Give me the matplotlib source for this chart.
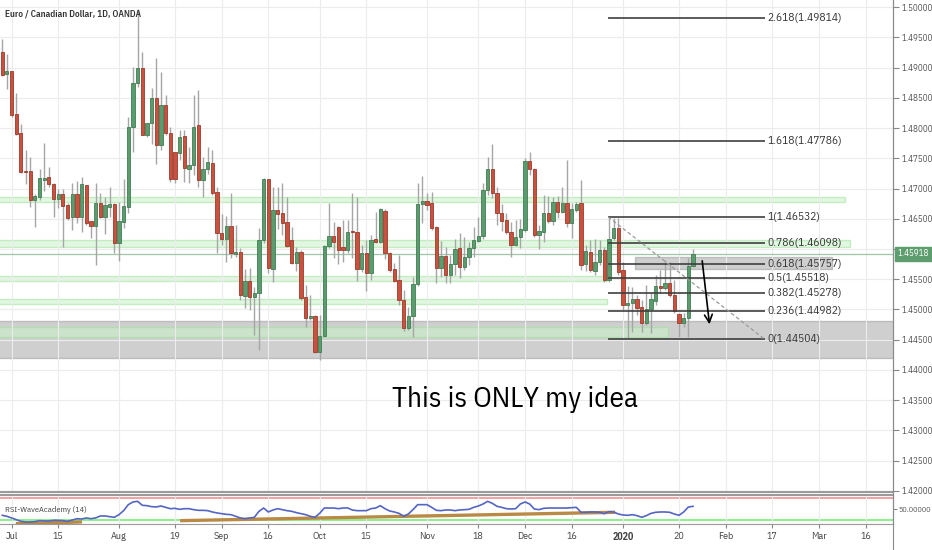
"""
EUR/CAD daily chart (TradingView style) with fib levels and RSI pane
"""

import numpy as np
import pandas as pd
import matplotlib
matplotlib.use('Agg')
import matplotlib.pyplot as plt
from matplotlib.patches import Rectangle
import matplotlib.transforms as mtransforms

COND = 'IBM Plex Sans Condensed'
plt.rcParams['font.family'] = [COND, 'DejaVu Sans']

# ---- data ----
first_day = '2019-06-27'
last_day = '2020-03-31'
holidays = ['2019-12-25', '2020-01-01']

opens = [
    1.4926, 1.4889, 1.4894, 1.4823, 1.4792, 1.4729, 1.4729, 1.4681, 1.4686, 1.4714,
    1.4719, 1.4707, 1.4683, 1.4691, 1.4673, 1.4653, 1.4691, 1.4653, 1.4706, 1.4646,
    1.4638, 1.4676, 1.4653, 1.4669, 1.4674, 1.4610, 1.4645, 1.4669, 1.4802, 1.4874,
    1.4899, 1.4788, 1.4808, 1.4850, 1.4772, 1.4838, 1.4792, 1.4760, 1.4759, 1.4787,
    1.4732, 1.4739, 1.4805, 1.4714, 1.4732, 1.4742, 1.4694, 1.4626, 1.4617, 1.4638,
    1.4592, 1.4595, 1.4522, 1.4547, 1.4521, 1.4527, 1.4615, 1.4716, 1.4567, 1.4664,
    1.4660, 1.4645, 1.4615, 1.4577, 1.4595, 1.4521, 1.4486, 1.4489, 1.4430, 1.4456,
    1.4605, 1.4621, 1.4636, 1.4603, 1.4598, 1.4630, 1.4628, 1.4567, 1.4593, 1.4560,
    1.4617, 1.4612, 1.4663, 1.4593, 1.4567, 1.4549, 1.4516, 1.4469, 1.4489, 1.4542,
    1.4674, 1.4679, 1.4676, 1.4636, 1.4569, 1.4588, 1.4557, 1.4575, 1.4602, 1.4570,
    1.4587, 1.4602, 1.4613, 1.4621, 1.4698, 1.4732, 1.4693, 1.4660, 1.4648, 1.4628,
    1.4607, 1.4620, 1.4631, 1.4745, 1.4732, 1.4623, 1.4628, 1.4660, 1.4646, 1.4678,
    1.4661, 1.4676, 1.4643, 1.4664, 1.4676, 1.4575, 1.4595, 1.4564, 1.4579, 1.4598,
    1.4549, 1.4618, 1.4635, 1.4565, 1.4507, 1.4511, 1.4517, 1.4504, 1.4478, 1.4501,
    1.4514, 1.4539, 1.4536, 1.4544, 1.4524, 1.4493, 1.4478, 1.4486, 1.4572]

highs = [
    1.4947, 1.4922, 1.4894, 1.4858, 1.4807, 1.4764, 1.4752, 1.4691, 1.4732, 1.4775,
    1.4736, 1.4709, 1.4699, 1.4699, 1.4676, 1.4709, 1.4712, 1.4719, 1.4706, 1.4646,
    1.4709, 1.4693, 1.4686, 1.4702, 1.4676, 1.4678, 1.4716, 1.4818, 1.4901, 1.4997,
    1.4926, 1.4808, 1.4866, 1.4916, 1.4893, 1.4855, 1.4802, 1.4760, 1.4797, 1.4797,
    1.4769, 1.4855, 1.4863, 1.4752, 1.4769, 1.4764, 1.4702, 1.4658, 1.4655, 1.4693,
    1.4640, 1.4602, 1.4567, 1.4569, 1.4537, 1.4635, 1.4717, 1.4716, 1.4702, 1.4702,
    1.4709, 1.4686, 1.4636, 1.4603, 1.4598, 1.4540, 1.4524, 1.4491, 1.4491, 1.4607,
    1.4676, 1.4645, 1.4638, 1.4648, 1.4648, 1.4693, 1.4686, 1.4607, 1.4615, 1.4623,
    1.4661, 1.4668, 1.4666, 1.4595, 1.4577, 1.4590, 1.4532, 1.4504, 1.4554, 1.4709,
    1.4721, 1.4693, 1.4694, 1.4638, 1.4613, 1.4603, 1.4590, 1.4617, 1.4626, 1.4620,
    1.4612, 1.4636, 1.4653, 1.4709, 1.4752, 1.4774, 1.4702, 1.4674, 1.4660, 1.4645,
    1.4648, 1.4650, 1.4750, 1.4760, 1.4734, 1.4640, 1.4689, 1.4688, 1.4686, 1.4688,
    1.4702, 1.4747, 1.4676, 1.4678, 1.4714, 1.4607, 1.4615, 1.4617, 1.4615, 1.4603,
    1.4655, 1.4651, 1.4651, 1.4579, 1.4539, 1.4537, 1.4524, 1.4516, 1.4540, 1.4527,
    1.4557, 1.4565, 1.4582, 1.4579, 1.4549, 1.4494, 1.4494, 1.4585, 1.4600]

lows = [
    1.4886, 1.4864, 1.4818, 1.4788, 1.4726, 1.4707, 1.4669, 1.4636, 1.4681, 1.4696,
    1.4702, 1.4653, 1.4668, 1.4603, 1.4648, 1.4631, 1.4643, 1.4628, 1.4640, 1.4618,
    1.4574, 1.4651, 1.4625, 1.4653, 1.4593, 1.4580, 1.4635, 1.4660, 1.4760, 1.4868,
    1.4788, 1.4785, 1.4774, 1.4741, 1.4764, 1.4788, 1.4711, 1.4709, 1.4747, 1.4711,
    1.4709, 1.4722, 1.4702, 1.4686, 1.4724, 1.4689, 1.4593, 1.4607, 1.4579, 1.4585,
    1.4587, 1.4516, 1.4502, 1.4499, 1.4458, 1.4433, 1.4610, 1.4560, 1.4545, 1.4633,
    1.4623, 1.4603, 1.4575, 1.4564, 1.4516, 1.4471, 1.4483, 1.4428, 1.4417, 1.4454,
    1.4602, 1.4585, 1.4575, 1.4579, 1.4593, 1.4585, 1.4547, 1.4562, 1.4530, 1.4549,
    1.4610, 1.4610, 1.4583, 1.4562, 1.4545, 1.4507, 1.4464, 1.4466, 1.4454, 1.4539,
    1.4643, 1.4664, 1.4631, 1.4544, 1.4554, 1.4544, 1.4544, 1.4557, 1.4552, 1.4565,
    1.4574, 1.4587, 1.4612, 1.4617, 1.4689, 1.4684, 1.4640, 1.4630, 1.4625, 1.4587,
    1.4605, 1.4602, 1.4628, 1.4722, 1.4620, 1.4600, 1.4612, 1.4643, 1.4640, 1.4651,
    1.4660, 1.4636, 1.4618, 1.4661, 1.4565, 1.4564, 1.4562, 1.4557, 1.4574, 1.4545,
    1.4545, 1.4615, 1.4557, 1.4499, 1.4453, 1.4463, 1.4491, 1.4463, 1.4474, 1.4461,
    1.4507, 1.4527, 1.4532, 1.4521, 1.4494, 1.4454, 1.4471, 1.4454, 1.4570]

closes = [
    1.4888, 1.4894, 1.4821, 1.4790, 1.4727, 1.4727, 1.4681, 1.4688, 1.4717, 1.4717,
    1.4707, 1.4683, 1.4691, 1.4671, 1.4651, 1.4691, 1.4653, 1.4707, 1.4643, 1.4638,
    1.4676, 1.4653, 1.4673, 1.4674, 1.4610, 1.4646, 1.4671, 1.4802, 1.4874, 1.4899,
    1.4788, 1.4808, 1.4850, 1.4772, 1.4838, 1.4792, 1.4716, 1.4716, 1.4785, 1.4734,
    1.4739, 1.4802, 1.4714, 1.4732, 1.4744, 1.4693, 1.4626, 1.4617, 1.4638, 1.4593,
    1.4595, 1.4524, 1.4547, 1.4521, 1.4527, 1.4615, 1.4716, 1.4569, 1.4664, 1.4658,
    1.4643, 1.4605, 1.4577, 1.4595, 1.4519, 1.4486, 1.4489, 1.4430, 1.4456, 1.4605,
    1.4621, 1.4612, 1.4598, 1.4598, 1.4628, 1.4628, 1.4567, 1.4593, 1.4560, 1.4615,
    1.4612, 1.4666, 1.4593, 1.4565, 1.4547, 1.4516, 1.4469, 1.4489, 1.4542, 1.4674,
    1.4679, 1.4673, 1.4635, 1.4569, 1.4588, 1.4557, 1.4575, 1.4600, 1.4570, 1.4587,
    1.4602, 1.4615, 1.4621, 1.4698, 1.4732, 1.4693, 1.4660, 1.4646, 1.4628, 1.4607,
    1.4620, 1.4633, 1.4745, 1.4732, 1.4623, 1.4630, 1.4660, 1.4646, 1.4678, 1.4661,
    1.4676, 1.4643, 1.4666, 1.4674, 1.4574, 1.4597, 1.4565, 1.4579, 1.4598, 1.4549,
    1.4617, 1.4635, 1.4562, 1.4507, 1.4511, 1.4517, 1.4502, 1.4478, 1.4501, 1.4517,
    1.4539, 1.4536, 1.4544, 1.4524, 1.4497, 1.4478, 1.4486, 1.4572, 1.45918]

rsi = [
    38.5, 36.7, 33.7, 30.6, 27.6, 26.4, 26.4, 27.0, 28.8, 28.2,
    28.2, 29.4, 29.4, 28.8, 27.6, 30.0, 32.4, 31.8, 33.7, 32.4,
    33.7, 37.3, 37.3, 36.1, 34.9, 39.7, 47.0, 57.9, 62.8, 64.0,
    56.7, 56.1, 54.3, 53.7, 55.5, 53.0, 50.6, 51.2, 49.4, 50.6,
    50.6, 48.8, 47.6, 47.6, 47.0, 44.6, 42.8, 41.5, 40.3, 39.7,
    36.7, 33.7, 32.4, 33.7, 34.9, 45.8, 51.8, 44.6, 48.2, 50.6,
    48.8, 47.0, 45.8, 43.4, 41.5, 39.7, 36.7, 34.9, 42.1, 51.8,
    51.8, 51.8, 50.6, 51.8, 52.0, 48.2, 47.0, 47.0, 47.0, 50.6,
    51.8, 56.1, 50.6, 46.4, 44.6, 42.1, 36.7, 40.9, 48.8, 57.9,
    57.9, 57.9, 53.0, 47.6, 47.0, 48.2, 48.2, 47.0, 48.2, 48.8,
    49.4, 53.0, 55.5, 59.1, 64.0, 60.3, 54.9, 53.0, 50.6, 50.0,
    50.6, 59.1, 62.8, 59.1, 50.0, 48.8, 51.2, 51.8, 51.8, 51.8,
    51.8, 51.8, 52.4, 53.0, 44.0, 44.0, 44.6, 44.6, 44.0, 41.5,
    45.2, 44.6, 40.9, 39.1, 38.5, 39.7, 37.9, 34.9, 37.9, 42.1,
    44.0, 44.6, 44.6, 44.0, 40.9, 38.5, 44.6, 53.6, 54.9]

tick_dates = ['2019-07-01', '2019-07-15', '2019-08-01', '2019-08-19', '2019-09-02',
              '2019-09-16', '2019-10-01', '2019-10-15', '2019-11-01', '2019-11-18',
              '2019-12-02', '2019-12-16', '2020-01-02', '2020-01-20', '2020-02-03',
              '2020-02-17', '2020-03-02', '2020-03-16']
tick_labels = ['Jul', '15', 'Aug', '19', 'Sep', '16', 'Oct', '15', 'Nov', '18',
               'Dec', '16', '2020', '20', 'Feb', '17', 'Mar', '16']

# fibonacci retracement drawn on the chart
fib_ratios = ['2.618', '1.618', '1', '0.786', '0.618', '0.5', '0.382', '0.236', '0']
fib_prices = [1.49814, 1.47786, 1.46532, 1.46098, 1.45757, 1.45518, 1.45278, 1.44982, 1.44504]
fib_start, fib_end = 129.8, 163.4

# support / resistance zones: (start bar, end bar, low, high)
green_zones = [(-1, 180.6, 1.4678, 1.4686),
               (-1, 181.6, 1.4603, 1.4615),
               (-1, 129.6, 1.4547, 1.4555),
               (-1, 129.6, 1.4509, 1.4517),
               (-1, 142.6, 1.4454, 1.4471)]
grey_zones = [(-1, 195, 1.4420, 1.4481),
              (135.6, 177.8, 1.4567, 1.4587)]

arrow_from = (149.9, 1.4585)
arrow_to = (151.6, 1.4471)

rsi_lines = [([2.9, 17.1], [23.4, 26.4]),
             ([38.1, 131.3], [28.8, 44.0])]


def draw_chart():
    days = pd.bdate_range(first_day, last_day).drop(pd.to_datetime(holidays))
    tick_pos = days.get_indexer(pd.to_datetime(tick_dates))

    o = np.array(opens)
    h = np.array(highs)
    l = np.array(lows)
    c = np.array(closes)
    x = np.arange(len(c))

    fig = plt.figure(figsize=(9.32, 5.5), dpi=100)
    fig.patch.set_facecolor('white')
    ax = fig.add_axes([0, 58 / 550, 893 / 932, 492 / 550])
    rax = fig.add_axes([0, 26 / 550, 893 / 932, 29 / 550], sharex=ax)

    ax.set_xlim(-0.49, 190.85)
    ax.set_ylim(1.41983, 1.50116)

    # grid
    ax.set_yticks(np.arange(1.42, 1.5001, 0.005))
    ax.set_xticks(tick_pos)
    ax.grid(True, color='#ececec', lw=0.8, zorder=0)
    rax.grid(True, axis='x', color='#ececec', lw=0.8, zorder=0)

    # zones
    for x0, x1, lo, hi in grey_zones:
        ax.add_patch(Rectangle((x0, lo), x1 - x0, hi - lo, facecolor='#a8a8a8',
                               edgecolor='#9a9a9a', alpha=0.55, lw=1, zorder=1))
    for x0, x1, lo, hi in green_zones:
        ax.add_patch(Rectangle((x0, lo), x1 - x0, hi - lo, facecolor='#c9f2c9',
                               edgecolor='#9be39b', alpha=0.55, lw=1, zorder=1.5))

    # last price line
    ax.axhline(c[-1], color='#9dc5a6', lw=0.9, zorder=1.6)

    # candles
    up = c >= o
    body_col = np.where(up, '#5b9c6f', '#c8523f')
    edge_col = np.where(up, '#417d54', '#9e3a2a')
    ax.vlines(x, l, h, color='#a6a6a6', lw=1, zorder=2)
    ax.bar(x, np.maximum(np.abs(c - o), 0.00004), bottom=np.minimum(o, c), width=0.66,
           color=body_col, edgecolor=edge_col, lw=0.6, zorder=3)

    # fibonacci levels
    ax.hlines(fib_prices, fib_start, fib_end, color='#3f3f3f', lw=1.2, zorder=4)
    for r, p in zip(fib_ratios, fib_prices):
        ax.text(fib_end + 0.6, p, f'{r}({p:.5f})', fontsize=8.2, color='#333333',
                ha='left', va='center', zorder=5)
    ax.plot([fib_start, fib_end], [fib_prices[2], fib_prices[-1]], ls=(0, (3, 2)),
            color='#9a9a9a', lw=0.9, zorder=4)

    # arrow
    ax.annotate('', xy=arrow_to, xytext=arrow_from,
                arrowprops=dict(arrowstyle='->', color='black', lw=1.2,
                                mutation_scale=14), zorder=6)

    ax.text(109.9, 1.4339, 'This is ONLY my idea', fontsize=21, color='black',
            ha='center', va='baseline', zorder=6)

    # right price axis (the level under the price tag is hidden, as on the chart)
    ax.yaxis.tick_right()
    ax.yaxis.set_major_formatter(plt.FuncFormatter(
        lambda v, p: '' if abs(v - c[-1]) < 0.0015 else f'{v:.5f}'))
    ax.tick_params(axis='y', direction='out', length=4, width=0.8, color='#888888',
                   labelsize=6.5, labelcolor='#555555', pad=2)
    ax.tick_params(axis='x', length=0, labelbottom=False)
    for s in ['top', 'left']:
        ax.spines[s].set_visible(False)
    ax.spines['right'].set_color('#8a8a8a')
    ax.spines['bottom'].set_color('#9a9a9a')
    ax.spines['bottom'].set_linewidth(1.5)

    # price tag
    trans = mtransforms.blended_transform_factory(ax.transAxes, ax.transData)
    ax.text(1.005, c[-1], f'{c[-1]:.5f}', transform=trans, fontsize=6.5, color='white',
            ha='left', va='center', zorder=10, clip_on=False,
            bbox=dict(boxstyle='square,pad=0.3', facecolor='#5e9e6e', edgecolor='#5e9e6e'))

    # RSI pane
    rax.set_ylim(22.7, 75.5)
    rax.axhline(70, color='#f4a0a0', lw=1.4, zorder=1)
    rax.axhline(30, color='#8cef8c', lw=1.4, zorder=1)
    for xs, ys in rsi_lines:
        rax.plot(xs, ys, color='#b98a45', lw=2.4, solid_capstyle='butt', zorder=2)
    rax.plot(x, rsi, color='#5565c2', lw=1.2, zorder=3)
    rax.text(0.006, 0.5, 'RSI-WaveAcademy (14)', transform=rax.transAxes, fontsize=6,
             color='#444444', ha='left', va='center', zorder=5)
    rax.yaxis.tick_right()
    rax.set_yticks([50])
    rax.yaxis.set_major_formatter(plt.FormatStrFormatter('%.5f'))
    rax.tick_params(axis='y', direction='out', length=3, width=0.8, color='#888888',
                    labelsize=5.9, labelcolor='#555555', pad=1)
    rax.set_xticks(tick_pos)
    rax.set_xticklabels(tick_labels)
    rax.tick_params(axis='x', direction='out', length=3, color='#888888',
                    labelsize=7.2, labelcolor='#444444', pad=3)
    for lbl in rax.get_xticklabels():
        if lbl.get_text() == '2020':
            lbl.set_fontweight('bold')
    rax.spines['top'].set_color('#9a9a9a')
    rax.spines['top'].set_linewidth(1.5)
    rax.spines['bottom'].set_color('#9a9a9a')
    rax.spines['right'].set_color('#8a8a8a')
    rax.spines['left'].set_visible(False)

    # right axis line running to the bottom
    fig.add_artist(plt.Line2D([893 / 932, 893 / 932], [0, 1], color='#8a8a8a', lw=0.8))

    fig.text(5 / 932, 1 - 14 / 550, 'Euro / Canadian Dollar, 1D, OANDA', fontsize=6.7,
             color='#333333', fontweight='semibold', ha='left', va='center')

    fig.savefig('out.png', dpi=100, facecolor='white')
    plt.close(fig)


if __name__ == '__main__':
    draw_chart()
